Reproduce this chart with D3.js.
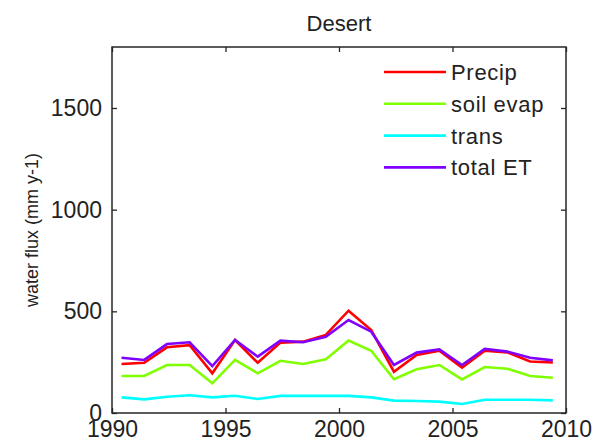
<!DOCTYPE html>
<html>
<head>
<meta charset="utf-8">
<script src="https://cdn.jsdelivr.net/npm/d3@7"></script>
<style>
  html, body { margin: 0; padding: 0; background: #fff; }
  svg { display: block; font-family: "Liberation Sans", Arial, sans-serif; }
</style>
</head>
<body>
<svg id="chart" width="601" height="446"></svg>
<script>
// Annual water fluxes (mm/yr), one value per year, plotted mid-year
const years = [1990, 1991, 1992, 1993, 1994, 1995, 1996, 1997, 1998, 1999,
               2000, 2001, 2002, 2003, 2004, 2005, 2006, 2007, 2008, 2009];
const precip   = [241, 247, 323, 334, 195, 359, 247, 346, 351, 384,
                  503, 408, 203, 285, 306, 223, 306, 298, 253, 248];
const soilEvap = [182, 182, 236, 236, 146, 261, 195, 257, 241, 264,
                  356, 306, 166, 215, 236, 165, 226, 218, 182, 173];
const trans    = [77, 67, 80, 87, 77, 85, 69, 84, 84, 84,
                  84, 77, 61, 59, 56, 44, 65, 65, 65, 62];
const totalET  = [272, 261, 339, 348, 231, 359, 277, 356, 348, 375,
                  457, 400, 236, 297, 313, 236, 315, 302, 272, 259];

const seriesNames  = ["Precip", "soil evap", "trans", "total ET"];
const seriesValues = [precip, soilEvap, trans, totalET];
const seriesColors = ["#ff0000", "#80ff00", "#00ffff", "#8000ff"];

const xTicks = [1990, 1995, 2000, 2005, 2010];
const yTicks = [0, 500, 1000, 1500];

const svg = d3.select("#chart");
const plot = { left: 112, right: 566, top: 47, bottom: 413 };

const x = d3.scaleLinear().domain([1990, 2010]).range([plot.left, plot.right]);
const y = d3.scaleLinear().domain([0, 1800]).range([plot.bottom, plot.top]);

const axisColor = "#262626";
const tickLen = 5;

// Data lines
const line = d3.line()
  .x((d, i) => x(years[i] + 0.42))
  .y(d => y(d));

svg.append("g").selectAll("path")
  .data(seriesValues)
  .join("path")
  .attr("d", line)
  .attr("fill", "none")
  .attr("stroke", (d, i) => seriesColors[i])
  .attr("stroke-width", 2.6)
  .attr("stroke-linejoin", "miter");

// Axes: bottom/left with labels, top/right mirrored ticks only (boxed axes)
const axisB = d3.axisBottom(x).tickValues(xTicks).tickFormat(d3.format("d"))
  .tickSizeInner(-tickLen).tickSizeOuter(0).tickPadding(10);
const axisL = d3.axisLeft(y).tickValues(yTicks).tickFormat(d3.format("d"))
  .tickSizeInner(-tickLen).tickSizeOuter(0).tickPadding(10);
const axisT = d3.axisTop(x).tickValues(xTicks).tickFormat("")
  .tickSizeInner(-tickLen).tickSizeOuter(0);
const axisR = d3.axisRight(y).tickValues(yTicks).tickFormat("")
  .tickSizeInner(-tickLen).tickSizeOuter(0);

function styleAxis(g) {
  g.select(".domain").remove();
  g.selectAll(".tick line").attr("stroke", axisColor).attr("stroke-width", 1.3);
  g.selectAll(".tick text").attr("fill", "#222").attr("font-size", 23)
    .attr("font-family", "'Liberation Sans', Arial, sans-serif");
}

svg.append("g").attr("transform", `translate(0,${plot.bottom})`).call(axisB).call(styleAxis)
  .selectAll(".tick text").attr("dy", "0.62em");
svg.append("g").attr("transform", `translate(${plot.left},0)`).call(axisL).call(styleAxis);
svg.append("g").attr("transform", `translate(0,${plot.top})`).call(axisT).call(styleAxis);
svg.append("g").attr("transform", `translate(${plot.right},0)`).call(axisR).call(styleAxis);

// Axes box
svg.append("rect")
  .attr("x", plot.left).attr("y", plot.top)
  .attr("width", plot.right - plot.left).attr("height", plot.bottom - plot.top)
  .attr("fill", "none").attr("stroke", axisColor).attr("stroke-width", 1.5);

// Title
svg.append("text")
  .attr("x", (plot.left + plot.right) / 2).attr("y", 31)
  .attr("text-anchor", "middle").attr("font-size", 22).attr("fill", "#222")
  .text("Desert");

// Y-axis label
svg.append("text")
  .attr("transform", `translate(38,${(plot.top + plot.bottom) / 2}) rotate(-90)`)
  .attr("text-anchor", "middle").attr("font-size", 18).attr("fill", "#222")
  .text("water flux (mm y-1)");

// Legend
const legend = svg.append("g");
const legendY0 = 72, legendStep = 31.8;
seriesNames.forEach((name, i) => {
  const ly = legendY0 + i * legendStep;
  legend.append("line")
    .attr("x1", 384).attr("x2", 446).attr("y1", ly).attr("y2", ly)
    .attr("stroke", seriesColors[i]).attr("stroke-width", 2.6);
  legend.append("text")
    .attr("x", 451).attr("y", ly).attr("dy", "0.36em")
    .attr("font-size", 22).attr("letter-spacing", 0.7).attr("fill", "#222")
    .text(name);
});
</script>
</body>
</html>
